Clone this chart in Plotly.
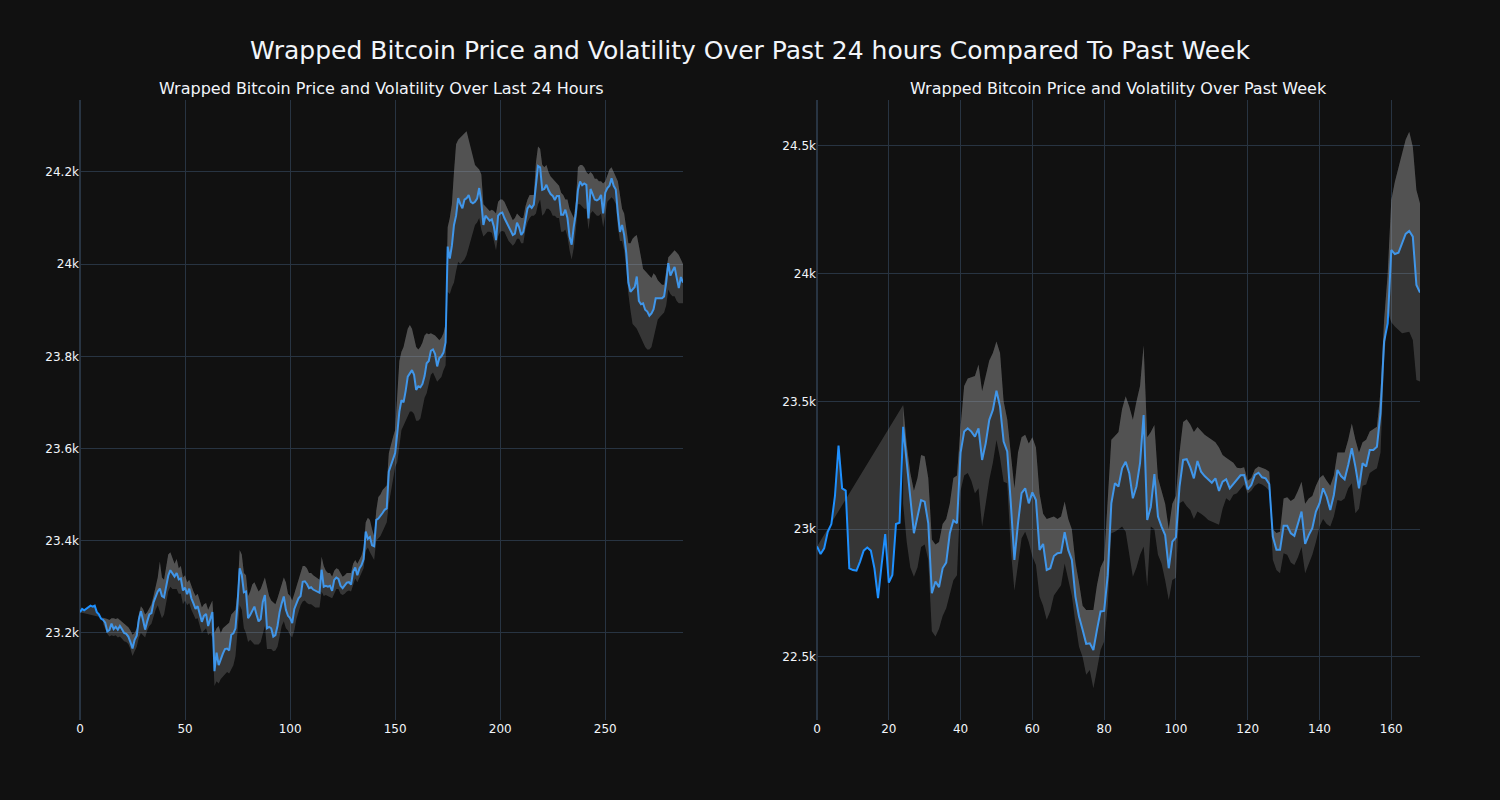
import plotly.graph_objects as go
from plotly.subplots import make_subplots

# ---------------- 24 hour data (5-minute steps) ----------------
day_price = [
    23245, 23252, 23249, 23253, 23256, 23259, 23257, 23259, 23245, 23240,
    23231, 23228, 23222, 23203, 23206, 23220, 23208, 23213, 23207, 23215,
    23208, 23200, 23198, 23192, 23180, 23166, 23185, 23194, 23229, 23247,
    23228, 23207, 23225, 23240, 23243, 23266, 23278, 23290, 23296, 23280,
    23277, 23304, 23324, 23336, 23329, 23322, 23330, 23316, 23318, 23292,
    23298, 23284, 23296, 23275, 23264, 23252, 23258, 23240, 23224, 23237,
    23241, 23215, 23229, 23245, 23117, 23157, 23130, 23145, 23155, 23165,
    23166, 23162, 23196, 23199, 23210, 23265, 23340, 23326, 23288, 23290,
    23232, 23239, 23250, 23257, 23240, 23225, 23230, 23267, 23282, 23210,
    23213, 23210, 23192, 23195, 23215, 23245, 23264, 23279, 23250, 23237,
    23232, 23221, 23252, 23266, 23275, 23280, 23311, 23312, 23306, 23297,
    23299, 23294, 23292, 23290, 23287, 23337, 23300, 23302, 23300, 23302,
    23291, 23315, 23320, 23317, 23302, 23297, 23304, 23309, 23310, 23305,
    23333, 23342, 23325, 23340, 23347, 23360, 23420, 23404, 23408, 23390,
    23388, 23445, 23448, 23453, 23460, 23467, 23470, 23550, 23565, 23580,
    23590, 23633, 23680, 23705, 23700, 23725, 23756, 23763, 23770, 23760,
    23727, 23735, 23733, 23740, 23757, 23785, 23790, 23812, 23815, 23805,
    23778, 23796, 23800, 23808, 23830, 24038, 24012, 24040, 24085, 24105,
    24143, 24130, 24121, 24140, 24143, 24150, 24135, 24132, 24135, 24142,
    24165, 24135, 24085, 24105, 24100, 24094, 24097, 24081, 24052, 24105,
    24110, 24112, 24100, 24090, 24080, 24071, 24063, 24066, 24090, 24080,
    24063, 24070, 24100, 24121, 24127, 24122, 24129, 24175, 24213, 24210,
    24161, 24163, 24172, 24160, 24152, 24148, 24139, 24148, 24148, 24107,
    24107, 24118, 24100, 24060, 24042, 24081, 24110, 24161, 24179, 24171,
    24175, 24172, 24099, 24163, 24150, 24140, 24138, 24141, 24150, 24110,
    24155, 24165, 24170, 24186, 24170, 24162, 24110, 24070, 24085, 24063,
    24024, 23960, 23940, 23946, 23950, 23973, 23920, 23913, 23915, 23901,
    23897, 23888, 23893, 23902, 23926, 23926, 23926, 23926, 23930, 23960,
    24002, 23975, 23985, 23994, 23970, 23948, 23972, 23960,
]

N = None
day_upper = [N] * 11 + [
    23233, 23232, 23230, 23228, 23232, 23232, 23230, 23232, 23228, 23226,
    23222, 23218, 23212,
    23205, 23196, 23200, 23210,
    23240, 23258, 23252, 23240, 23245, 23255, 23262, 23280,
    23300, 23320, 23355, 23320, 23315, 23345, 23370, 23375, 23360,
    23350, 23360, 23340, 23345, 23320, 23325, 23310, 23315,
    23300, 23290, 23280, 23285, 23270, 23255, 23262, 23265, 23250, 23260,
    23270, 23200, 23210, 23215, 23200, 23210, 23215, 23218, 23222,
    23240, 23245, 23250, 23290, 23380, 23370, 23330, 23325, 23280,
    23290, 23305, 23310, 23300, 23290, 23295, 23310, 23320,
    23300, 23280, 23270, 23265, 23262, 23275, 23290, 23305,
    23320, 23310, 23285, 23280, 23270, 23285, 23300, 23310,
    23330, 23345, 23345, 23340, 23330, 23330, 23325, 23322, 23318, 23315,
    23365, 23345, 23335, 23330, 23330, 23322, 23335, 23340, 23338, 23330, 23322,
    23325, 23330, 23330, 23330, 23350, 23358, 23350, 23360, 23368,
    23385, 23440, 23450, 23445, 23425, 23410, 23465,
    23495, 23500, 23510, 23515, 23520, 23590, 23610, 23625, 23640,
    23720, 23790, 23810, 23820, 23840, 23860, 23868,
    23860, 23840, 23820, 23815, 23820, 23830, 23845, 23850, 23848,
    23850, 23848, 23845, 23840, 23835, 23840, 23850, 23870,
    24080, 24100, 24130, 24200, 24260, 24270,
    24275, 24278, 24285, 24288, 24270, 24250, 24230, 24215, 24210, 24205,
    24195, 24130, 24125, 24120, 24115, 24118,
    24115, 24110, 24135, 24140, 24140, 24135, 24125, 24115, 24105,
    24095, 24100, 24110, 24105, 24100, 24100,
    24125, 24140, 24150, 24150, 24150,
    24220, 24255, 24250, 24215,
    24210, 24215, 24200, 24190, 24185, 24180, 24175, 24170,
    24155, 24150, 24140, 24140, 24120, 24110, 24100, 24135,
    24210, 24215, 24215, 24210, 24200, 24195, 24200, 24195, 24185, 24185,
    24180, 24180, 24175, 24180,
    24195, 24205, 24210, 24200, 24190, 24180, 24150,
    24120, 24110, 24075, 24045, 24045,
    24055, 24060, 24063, 24040, 24010,
    23990, 23985, 23980, 23975, 23970, 23980, 23975, 23965,
    23960, 23955, 23955, 23985, 24015,
    24020, 24025, 24030, 24025, 24020, 24010, 24000,
]

day_lower = [N] * 11 + [
    23220, 23210, 23198, 23192, 23195, 23193, 23195, 23190, 23192, 23187,
    23182, 23180, 23176,
    23165, 23150, 23160, 23170,
    23190, 23200, 23195, 23190, 23205, 23215, 23220, 23238,
    23250, 23260, 23245, 23232, 23240, 23265, 23290, 23300, 23295,
    23295, 23295, 23285, 23285, 23262, 23270, 23260, 23265,
    23250, 23240, 23230, 23232, 23215, 23200, 23205, 23210, 23195, 23200,
    23190, 23085, 23095, 23090, 23100, 23105, 23110, 23115, 23112,
    23120, 23130, 23150, 23200, 23260, 23250, 23210, 23200, 23180,
    23185, 23180, 23175, 23175, 23175, 23180, 23200, 23215,
    23165, 23165, 23165, 23160, 23162, 23170, 23190, 23215,
    23225, 23210, 23205, 23195, 23190, 23205, 23230, 23245,
    23260, 23268, 23270, 23265, 23262, 23262, 23258, 23255, 23255, 23255,
    23290, 23280, 23282, 23280, 23278, 23275, 23285, 23295, 23295, 23285, 23282,
    23285, 23290, 23292, 23290, 23305, 23318, 23310, 23320, 23330,
    23340, 23378, 23385, 23375, 23365, 23358, 23400,
    23405, 23410, 23420, 23430, 23440, 23480, 23510, 23540, 23560,
    23570, 23610, 23640, 23650, 23660, 23670, 23680,
    23680, 23675, 23660, 23660, 23665, 23690, 23710, 23720, 23740,
    23760, 23765, 23755, 23745, 23750, 23755, 23770, 23780,
    23940, 23935, 23950, 23960, 23985, 24005,
    24000, 24005, 24010, 24020, 24035, 24050, 24070, 24085, 24090, 24100,
    24075, 24060, 24065, 24070, 24070, 24068,
    24050, 24030, 24060, 24070, 24072, 24070, 24060, 24050, 24045,
    24040, 24045, 24055, 24055, 24045, 24045,
    24075, 24090, 24100, 24105, 24105,
    24110, 24130, 24140, 24105,
    24110, 24120, 24120, 24115, 24105, 24105, 24100, 24100,
    24070, 24070, 24075, 24060, 24030, 24010, 24035, 24075,
    24130, 24130, 24125, 24120, 24120, 24075, 24110, 24115, 24110, 24105,
    24105, 24110, 24080, 24110,
    24135, 24140, 24145, 24140, 24130, 24080, 24050,
    24050, 24030, 23990, 23935, 23900,
    23870, 23865, 23860, 23850, 23840,
    23830, 23820, 23815, 23815, 23820, 23840, 23860, 23880,
    23885, 23890, 23895, 23910, 23945,
    23935, 23930, 23930, 23920, 23915, 23915, 23915,
]

# ---------------- past week data (hourly steps) ----------------
week_price = [
    22932, 22903, 22925, 22990, 23020, 23130, 23327, 23160, 23151, 22847,
    22840, 22838, 22873, 22916, 22928, 22916, 22847, 22730, 22860, 22981,
    22791, 22821, 23020, 23025, 23401, 23258, 23114, 22984, 23049, 23114,
    23108, 23023, 22749, 22795, 22773, 22847, 22869, 22984, 23034, 23023,
    23300, 23382, 23395, 23382, 23362, 23395, 23271, 23336, 23428, 23467,
    23542, 23480, 23343, 23304, 23101, 22880, 23023, 23141, 23160, 23101,
    23144, 23114, 22919, 22942, 22840, 22847, 22895, 22906, 22908, 22988,
    22919, 22880, 22736, 22658, 22606, 22551, 22553, 22527, 22606, 22678,
    22680, 22820, 23101, 23180, 23167, 23238, 23264, 23219, 23121, 23167,
    23258, 23447, 23036, 23088, 23216, 23049, 23010, 22977, 22847, 22951,
    22968, 23167, 23271, 23274, 23242, 23199, 23267, 23225, 23208, 23193,
    23182, 23199, 23150, 23186, 23195, 23160, 23177, 23190, 23211, 23212,
    23156, 23173, 23212, 23221, 23203, 23199, 23177, 22971, 22919, 22919,
    23013, 23013, 22984, 22974, 23017, 23069, 22942, 22977, 23004, 23069,
    23101, 23160, 23127, 23075, 23134, 23232, 23208, 23195, 23251, 23317,
    23245, 23160, 23258, 23245, 23310, 23310, 23323, 23454, 23734, 23806,
    24093, 24077, 24082, 24119, 24156, 24167, 24145, 23956, 23926,
]

week_upper = [N] * 24 + [
    23486, 23330, 23220, 23150, 23200, 23290, 23285, 23200, 22960, 22940,
    22950, 23020, 23040, 23100, 23200, 23210, 23400, 23560, 23590, 23595,
    23600, 23645, 23540, 23600, 23660, 23690, 23735, 23690, 23500, 23430,
    23280, 23160, 23300, 23360, 23370, 23335, 23360, 23320, 23140, 23060,
    23040, 23045, 23050, 23040, 23050, 23108, 23040, 23000, 22870, 22790,
    22700, 22684, 22684, 22684, 22780, 22850, 22880, 23100, 23350, 23365,
    23380, 23470, 23520, 23480, 23428, 23500, 23560, 23720, 23360, 23380,
    23408, 23200, 23150, 23100, 23000, 23100, 23130, 23300, 23420, 23430,
    23410, 23380, 23400, 23385, 23370, 23360, 23350, 23340, 23320, 23290,
    23280, 23270, 23260, 23240, 23238, 23242, 23190, 23200, 23235, 23245,
    23240, 23235, 23225, 23000, 22985, 22990, 23120, 23125, 23110, 23120,
    23150, 23186, 23100, 23120, 23130, 23170, 23200, 23212, 23190, 23170,
    23210, 23300, 23300, 23300, 23350, 23414, 23350, 23300, 23340, 23350,
    23382, 23390, 23401, 23540, 23819, 24000, 24289, 24360, 24410, 24470,
    24524, 24556, 24497, 24328, 24275,
]

week_lower = [N] * 24 + [
    23100, 22950, 22850, 22814, 22850, 22930, 22940, 22880, 22600, 22580,
    22610, 22660, 22690, 22750, 22800, 22820, 23150, 23210, 23220, 23190,
    23141, 23160, 23010, 23100, 23193, 23260, 23349, 23280, 23186, 23180,
    22920, 22760, 22866, 22964, 22990, 22950, 22893, 22860, 22736, 22700,
    22645, 22680, 22740, 22760, 22780, 22866, 22800, 22740, 22632, 22540,
    22500, 22430, 22449, 22377, 22450, 22527, 22560, 22700, 22984, 22990,
    23000, 23010, 22990, 22900, 22814, 22850, 22900, 22932, 22775, 23010,
    23000, 22900, 22866, 22800, 22723, 22801, 22810, 23101, 23110, 23090,
    23075, 23040, 23069, 23060, 23050, 23036, 23030, 23025, 23017, 23080,
    23121, 23110, 23135, 23141, 23160, 23175, 23140, 23150, 23170, 23180,
    23175, 23165, 23150, 22880, 22840, 22827, 22906, 22900, 22870, 22860,
    22890, 22930, 22827, 22860, 22900, 22950, 23010, 23040, 23020, 23010,
    23050, 23114, 23110, 23120, 23160, 23180, 23062, 23080, 23170, 23175,
    23220, 23230, 23238, 23300, 23662, 23850, 23810, 23793, 23780, 23767,
    23770, 23773, 23741, 23584, 23578,
]

main_title = "Wrapped Bitcoin Price and Volatility Over Past 24 hours Compared To Past Week"
sub_titles = ("Wrapped Bitcoin Price and Volatility Over Last 24 Hours",
              "Wrapped Bitcoin Price and Volatility Over Past Week")

BAND_FILL = "rgba(169,169,169,0.25)"
LINE_COLOR = "dodgerblue"
FONT = "DejaVu Sans"

fig = make_subplots(rows=1, cols=2, subplot_titles=sub_titles, horizontal_spacing=0.1)


def valid(vals):
    xs = [i for i, v in enumerate(vals) if v is not None]
    ys = [v for v in vals if v is not None]
    return xs, ys


def add_panel(price, upper, lower, col):
    x = list(range(len(price)))
    fig.add_trace(go.Scatter(x=x, y=price, mode="lines",
                             line=dict(color=LINE_COLOR, width=2),
                             showlegend=False), row=1, col=col)
    ux, uy = valid(upper)
    fig.add_trace(go.Scatter(x=ux, y=uy, mode="lines", line=dict(width=0),
                             fill="tonexty", fillcolor=BAND_FILL,
                             showlegend=False), row=1, col=col)
    lx, ly = valid(lower)
    fig.add_trace(go.Scatter(x=lx, y=ly, mode="lines", line=dict(width=0),
                             fill="tonexty", fillcolor=BAND_FILL,
                             showlegend=False), row=1, col=col)


add_panel(day_price, day_upper, day_lower, 1)
add_panel(week_price, week_upper, week_lower, 2)

fig.update_layout(
    template="plotly_dark",
    width=1500, height=800,
    margin=dict(l=80, r=80, t=100, b=80),
    font=dict(family=FONT),
    title=dict(text=main_title, x=0.5, xanchor="center",
               y=1 - 50 / 800, yref="container", yanchor="middle",
               font=dict(size=25, family=FONT)),
    showlegend=False,
)
fig.update_annotations(font=dict(size=16, family=FONT))
fig.update_xaxes(range=[0, len(day_price) - 1], row=1, col=1)
fig.update_xaxes(range=[0, len(week_price) - 1], row=1, col=2)
fig.update_yaxes(range=[23011, 24356], row=1, col=1)
fig.update_yaxes(range=[22253, 24680], row=1, col=2)

fig.write_html(
    "out.html",
    config={"displayModeBar": False},
    post_script="document.body.style.margin='0';document.body.style.background='#111111';",
)
